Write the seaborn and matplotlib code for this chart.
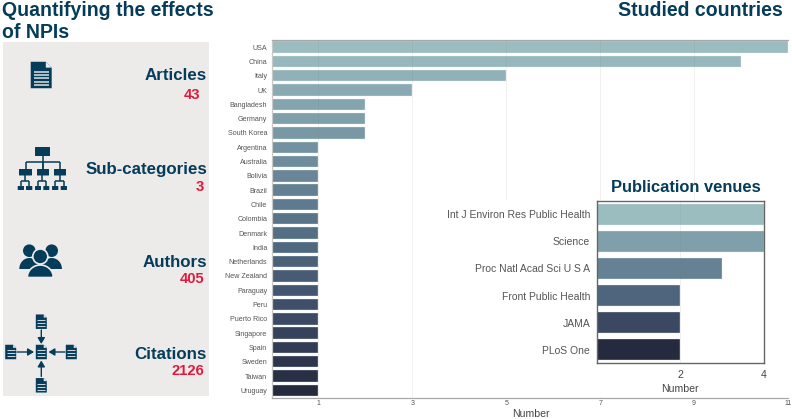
import math
import matplotlib
matplotlib.use("Agg")
import matplotlib.pyplot as plt
from matplotlib.patches import Rectangle, Polygon, Circle, FancyBboxPatch
import seaborn as sns
import pandas as pd

countries = ["USA", "China", "Italy", "UK", "Bangladesh", "Germany", "South Korea", "Argentina",
             "Australia", "Bolivia", "Brazil", "Chile", "Colombia", "Denmark", "India", "Netherlands",
             "New Zealand", "Paraguay", "Peru", "Puerto Rico", "Singapore", "Spain", "Sweden",
             "Taiwan", "Uruguay"]
country_counts = [11, 10, 5, 3, 2, 2, 2, 1, 1, 1, 1, 1, 1, 1, 1, 1, 1, 1, 1, 1, 1, 1, 1, 1, 1]
venues = ["Int J Environ Res Public Health", "Science", "Proc Natl Acad Sci U S A",
          "Front Public Health", "JAMA", "PLoS One"]
venue_counts = [4, 4, 3, 2, 2, 2]
stat_names = ["Articles", "Sub-categories", "Authors", "Citations"]
stat_values = ["43", "3", "405", "2126"]

NAVY = "#053c5a"
RED = "#e0193f"
sns.set_theme(style="white")
plt.rcParams["font.family"] = ["Liberation Sans", "DejaVu Sans"]
W, H = 792, 419
fig = plt.figure(figsize=(W / 100, H / 100), dpi=100, facecolor="white")


def rect(l, t, r, b):
    return [l / W, 1 - b / H, (r - l) / W, (b - t) / H]


stops = ["#9bbdc0", "#7898a6", "#587489", "#3f4f6b", "#252a3f"]

# main chart
ax = fig.add_axes(rect(271.5, 40, 788, 397.5), zorder=1)
df = pd.DataFrame({"country": countries, "n": country_counts})
sns.barplot(df, x="n", y="country", hue="country", legend=False, ax=ax, saturation=1, width=0.8,
            palette=sns.blend_palette(stops, len(countries)), edgecolor="#e6eeef", linewidth=0.25)
ax.set_xlim(0, 11)
ax.set_xticks([1, 3, 5, 7, 9, 11])
ax.grid(axis="x", color="#777777", alpha=0.1, lw=0.7)
ax.grid(axis="y", visible=False)
ax.set_axisbelow(False)
ax.tick_params(axis="x", labelsize=5, colors="#555555", length=0, pad=2)
ax.tick_params(axis="y", labelsize=5.1, colors="#555555", length=0, pad=3)
ax.set_ylabel("")
ax.set_xlabel("Number", fontsize=7.6, color="#444444")
ax.xaxis.set_label_coords((531 - 271.5) / (788 - 271.5), -0.032)
for s in ax.spines.values():
    s.set_color("#a8a8a8")
    s.set_linewidth(0.9)
ax.spines["right"].set_visible(False)
ax.spines["left"].set_color("#c8c8c8")

# white block behind inset
cover = fig.add_axes(rect(440, 200, 787, 396.5), zorder=2)
cover.axis("off")
cover.add_patch(Rectangle((0, 0), 1, 1, transform=cover.transAxes, color="white"))

# inset chart
inset = fig.add_axes(rect(596.5, 200.7, 763.5, 363.3), zorder=3, facecolor="white")
dv = pd.DataFrame({"venue": venues, "n": venue_counts})
sns.barplot(dv, x="n", y="venue", hue="venue", legend=False, ax=inset, saturation=1, width=0.76,
            palette=sns.blend_palette(stops, len(venues)), edgecolor="#e6eeef", linewidth=0.25)
inset.set_xlim(0, 4)
inset.set_xticks([2, 4])
inset.grid(axis="x", color="#777777", alpha=0.1, lw=0.7)
inset.grid(axis="y", visible=False)
inset.set_axisbelow(False)
inset.tick_params(axis="x", labelsize=7.6, colors="#444444", length=0, pad=5)
inset.tick_params(axis="y", labelsize=7.5, colors="#555555", length=0, pad=4.5)
inset.set_ylabel("")
inset.set_xlabel("Number", fontsize=7.6, color="#444444", labelpad=2.5)
for s in inset.spines.values():
    s.set_color("#666666")
    s.set_linewidth(1.0)

# overlay in pixel coordinates
ov = fig.add_axes([0, 0, 1, 1], zorder=4)
ov.set_xlim(0, W)
ov.set_ylim(H, 0)
ov.axis("off")
ov.patch.set_alpha(0)
ov.add_patch(Rectangle((3, 42), 206, 354, color="#edebea", lw=0, zorder=0))


def title(x, y, s, ha="left", size=14.05):
    ov.text(x, y, s, ha=ha, va="center", fontsize=size, fontweight="bold", color=NAVY)


title(1.5, 10, "Quantifying the effects")
title(1.5, 33, "of NPIs")
title(783, 10, "Studied countries", ha="right")
title(685.5, 187, "Publication venues", ha="center", size=11.9)

stat_y = [76, 169, 262, 354]
val_y = [95, 187, 279, 371]
val_r = [200, 204, 204, 204]
for name, val, y, vy, vr in zip(stat_names, stat_values, stat_y, val_y, val_r):
    ov.text(207, y, name, ha="right", va="center", fontsize=12.2, fontweight="bold", color=NAVY)
    ov.text(vr, vy, val, ha="right", va="center", fontsize=10.6, fontweight="bold", color=RED)


def doc(cx, cy, w, h, lines=4):
    l, r, t, b = cx - w / 2, cx + w / 2, cy - h / 2, cy + h / 2
    f = w * 0.28
    ov.add_patch(Polygon([(l, t), (r - f, t), (r, t + f), (r, b), (l, b)], color=NAVY, lw=0))
    ov.add_patch(Polygon([(r - f, t), (r, t + f), (r - f, t + f)], color="#edebea", lw=0))
    for i in range(lines):
        yy = cy - h * 0.12 + i * h * 0.62 / lines
        ov.plot([l + w * 0.15, r - w * 0.15], [yy, yy], color="#c9d3d8", lw=h / 26 + 0.2,
                solid_capstyle="butt")


doc(41.2, 75, 21, 26.5, lines=5)


# hierarchy icon
def box(l, t, r, b):
    ov.add_patch(FancyBboxPatch((l + .5, t + .5), r - l - 1, b - t - 1, boxstyle="round,pad=0.5",
                                color=NAVY, lw=0))


def seg(xs, ys, lw=1.1):
    ov.plot(xs, ys, color=NAVY, lw=lw, solid_capstyle="butt")


box(35, 147, 50, 156)
mids = [(19, 32), (37, 49), (54, 66)]
seg([42.5, 42.5], [156, 169])
seg([25.5, 60], [162, 162])
for a, b in mids:
    box(a, 169, b, 175.5)
    seg([(a + b) / 2] * 2, [162, 169])
lows = [(17.7, 24), (26, 32.3), (35, 41), (43.3, 49.3), (52, 58.3), (60.7, 67)]
for i, (a, b) in enumerate(lows):
    box(a, 186, b, 190)
    seg([(a + b) / 2] * 2, [181, 186])
    if i % 2 == 0:
        a2, b2 = lows[i + 1]
        seg([(a + b) / 2, (a2 + b2) / 2], [181, 181])
        m = ((a + b) / 2 + (a2 + b2) / 2) / 2
        seg([m, m], [175, 181])


# people icon
def person(cx, hy, hr, bl, br, bt, bb, edge=None):
    ec = edge if edge else NAVY
    lw = 1.2 if edge else 0
    ov.add_patch(Circle((cx, hy), hr, facecolor=NAVY, edgecolor=ec, lw=lw))
    rx = (br - bl) / 2
    ry = bb - bt
    ts = [i / 40 for i in range(41)]
    pts = [(cx - rx * math.cos(math.pi * t), bb - ry * math.sin(math.pi * t)) for t in ts]
    ov.add_patch(Polygon(pts, facecolor=NAVY, edgecolor=ec, lw=lw))


person(29.3, 250.7, 6.3, 18, 38, 258, 269)
person(51.7, 250.7, 6.3, 43, 63.5, 258, 269)
person(40.3, 256.5, 7.5, 27.5, 53.5, 265, 277.5, edge="#edebea")

# citations icon
docs = [(41.3, 321.7), (41.3, 352), (41.3, 385.3), (10.7, 352), (71.3, 352)]
for cx, cy in docs:
    doc(cx, cy, 11, 14.5, lines=3)
arrows = [((41.3, 330), (41.3, 344)), ((41.3, 376.5), (41.3, 360.5)),
          ((17, 352), (34, 352)), ((65, 352), (48.5, 352))]
for a, b in arrows:
    ov.annotate("", xy=b, xytext=a,
                arrowprops=dict(arrowstyle="-|>,head_width=0.18,head_length=0.3", color=NAVY, lw=1.0,
                                shrinkA=0, shrinkB=0))

fig.savefig("out.png", dpi=100)
